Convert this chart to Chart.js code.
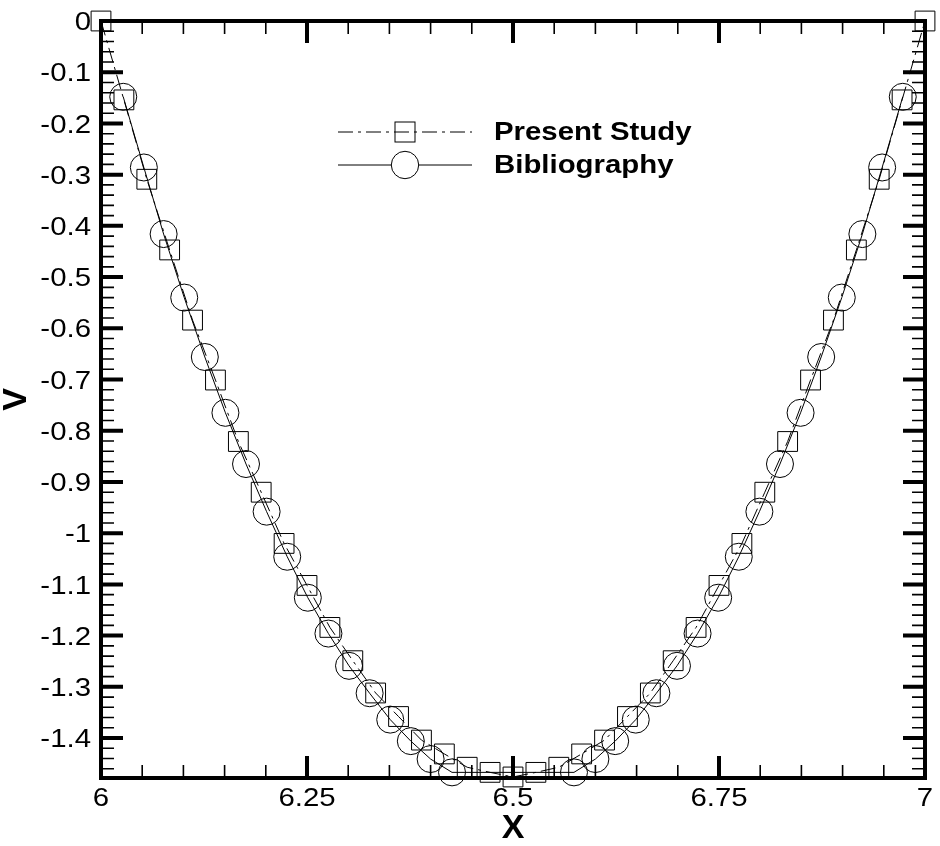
<!DOCTYPE html>
<html>
<head>
<meta charset="utf-8">
<title>V along X</title>
<script src="https://cdn.jsdelivr.net/npm/chart.js@4.4.1/dist/chart.umd.min.js"></script>
<style>
    html, body { margin: 0; padding: 0; background: #fff; }
    #wrap { width: 940px; height: 846px; position: relative; }
</style>
</head>
<body>
<div id="wrap"><canvas id="chart"></canvas></div>
<script>
// --- 1. data ---
const studyX = [6.0000, 6.0278, 6.0556, 6.0833, 6.1111, 6.1389, 6.1667, 6.1944, 6.2222, 6.2500,
    6.2778, 6.3056, 6.3333, 6.3611, 6.3889, 6.4167, 6.4444, 6.4722, 6.5000, 6.5278,
    6.5556, 6.5833, 6.6111, 6.6389, 6.6667, 6.6944, 6.7222, 6.7500, 6.7778, 6.8056,
    6.8333, 6.8611, 6.8889, 6.9167, 6.9444, 6.9722, 7.0000];
const studyV = [0, -0.154, -0.309, -0.447, -0.584, -0.701, -0.821, -0.920, -1.020, -1.102,
    -1.184, -1.249, -1.312, -1.358, -1.404, -1.431, -1.457, -1.467, -1.476, -1.467,
    -1.457, -1.431, -1.404, -1.358, -1.312, -1.249, -1.184, -1.102, -1.020, -0.920,
    -0.821, -0.701, -0.584, -0.447, -0.309, -0.154, 0];

const bibX = [6.027, 6.052, 6.076, 6.101, 6.126, 6.151, 6.176, 6.201, 6.226, 6.251,
    6.276, 6.301, 6.326, 6.351, 6.376, 6.400, 6.426,
    6.574, 6.600, 6.624, 6.649, 6.674, 6.699, 6.724, 6.749, 6.774,
    6.799, 6.824, 6.849, 6.874, 6.899, 6.924, 6.948, 6.973];
const bibV = [-0.148, -0.286, -0.416, -0.540, -0.656, -0.765, -0.865, -0.958, -1.046, -1.126,
    -1.196, -1.259, -1.3125, -1.364, -1.406, -1.441, -1.467,
    -1.467, -1.441, -1.406, -1.364, -1.3125, -1.259, -1.196, -1.126, -1.046,
    -0.958, -0.865, -0.765, -0.656, -0.540, -0.416, -0.286, -0.148];

const seriesNames = ['Present Study', 'Bibliography'];

// axis ranges and tick labels
const xMin = 6, xMax = 7;
const yMin = -1.478, yMax = 0;
const xTicks = [6, 6.25, 6.5, 6.75, 7];
const xTickLabels = ['6', '6.25', '6.5', '6.75', '7'];
const yTicks = [0, -0.1, -0.2, -0.3, -0.4, -0.5, -0.6, -0.7, -0.8, -0.9, -1, -1.1, -1.2, -1.3, -1.4];
const yTickLabels = ['0', '-0.1', '-0.2', '-0.3', '-0.4', '-0.5', '-0.6', '-0.7', '-0.8', '-0.9',
    '-1', '-1.1', '-1.2', '-1.3', '-1.4'];
const xMinorStep = 0.05;
const yMinorStep = 0.02;

// --- 2. styles ---
const FONT = "'Liberation Sans', Arial, sans-serif";
const studyDash = [15, 5, 3, 5];
const TEXT_STRETCH = 1.13;   // the original lettering is a bit wider than Arial

const toPoints = (xs, ys) => xs.map((x, i) => ({ x: x, y: ys[i] }));

/** text drawn with a small horizontal stretch */
function wideText(ctx, text, x, y, align, baseline) {
    ctx.save();
    ctx.translate(x, y);
    ctx.scale(TEXT_STRETCH, 1);
    ctx.textAlign = align;
    ctx.textBaseline = baseline;
    ctx.fillText(text, 0, 0);
    ctx.restore();
}

/** box with inward ticks on all four sides, tick labels, legend */
const framePlugin = {
    id: 'frame',
    afterDatasetsDraw(chart) {
        const { ctx, chartArea: a, scales } = chart;
        const sx = scales.x, sy = scales.y;
        ctx.save();
        ctx.strokeStyle = '#000';
        ctx.setLineDash([]);

        const tick = (len, width, xs, ys) => {
            ctx.lineWidth = width;
            ctx.beginPath();
            xs.forEach(v => {
                const px = sx.getPixelForValue(v);
                ctx.moveTo(px, a.bottom); ctx.lineTo(px, a.bottom - len);
                ctx.moveTo(px, a.top); ctx.lineTo(px, a.top + len);
            });
            ys.forEach(v => {
                const py = sy.getPixelForValue(v);
                ctx.moveTo(a.left, py); ctx.lineTo(a.left + len, py);
                ctx.moveTo(a.right, py); ctx.lineTo(a.right - len, py);
            });
            ctx.stroke();
        };

        // minor ticks
        const xMinor = [], yMinor = [];
        for (let k = 0; xMin + k * xMinorStep <= xMax + 1e-9; k++) xMinor.push(xMin + k * xMinorStep);
        for (let k = 0; yMax - k * yMinorStep >= yMin - 1e-9; k++) yMinor.push(yMax - k * yMinorStep);
        tick(13, 1.6, xMinor, yMinor);
        // major ticks
        tick(22, 4, xTicks, yTicks);

        // frame
        ctx.lineWidth = 4;
        ctx.strokeRect(a.left, a.top, a.right - a.left, a.bottom - a.top);

        // tick labels
        ctx.fillStyle = '#000';
        ctx.font = '26px ' + FONT;
        xTicks.forEach((v, i) => {
            wideText(ctx, xTickLabels[i], sx.getPixelForValue(v), a.bottom + 28, 'center', 'alphabetic');
        });
        yTicks.forEach((v, i) => {
            wideText(ctx, yTickLabels[i], a.left - 10, sy.getPixelForValue(v) + 2, 'right', 'middle');
        });
        ctx.restore();
    },
    afterDraw(chart) {
        // legend, drawn by hand so the marker sits on the line
        const ctx = chart.ctx;
        const x0 = 338, x1 = 472, mx = 405, tx = 494;
        const rows = [132, 165];
        ctx.save();
        ctx.strokeStyle = '#000';
        ctx.lineWidth = 1;

        ctx.setLineDash(studyDash);
        ctx.beginPath();
        ctx.moveTo(x0, rows[0]); ctx.lineTo(x1, rows[0]);
        ctx.stroke();
        ctx.setLineDash([]);
        ctx.strokeRect(mx - 10, rows[0] - 10, 20, 20);

        ctx.beginPath();
        ctx.moveTo(x0, rows[1]); ctx.lineTo(mx - 13.7, rows[1]);
        ctx.moveTo(mx + 13.7, rows[1]); ctx.lineTo(x1, rows[1]);
        ctx.stroke();
        ctx.beginPath();
        ctx.arc(mx, rows[1], 13.7, 0, Math.PI * 2);
        ctx.stroke();

        ctx.fillStyle = '#000';
        ctx.font = 'bold 26px ' + FONT;
        wideText(ctx, seriesNames[0], tx, rows[0] + 1, 'left', 'middle');
        wideText(ctx, seriesNames[1], tx, rows[1] + 1, 'left', 'middle');
        ctx.restore();
    }
};

// --- 3. chart ---
const ctx = document.getElementById('chart').getContext('2d');
new Chart(ctx, {
    type: 'scatter',
    data: {
        datasets: [{
            label: seriesNames[0],
            data: toPoints(studyX, studyV),
            showLine: true,
            borderColor: '#000',
            borderWidth: 1,
            borderDash: studyDash,
            tension: 0,
            pointStyle: 'rect',
            pointRadius: 14,
            pointBorderWidth: 1,
            pointBorderColor: '#000',
            pointBackgroundColor: 'rgba(0,0,0,0)',
            clip: false
        }, {
            label: seriesNames[1],
            data: toPoints(bibX, bibV),
            showLine: true,
            borderColor: '#000',
            borderWidth: 1,
            tension: 0,
            pointStyle: 'circle',
            pointRadius: 13.5,
            pointBorderWidth: 1,
            pointBorderColor: '#000',
            pointBackgroundColor: 'rgba(0,0,0,0)',
            clip: false
        }]
    },
    options: {
        responsive: true,
        maintainAspectRatio: false,
        animation: false,
        events: [],
        layout: { padding: { top: 21, right: 8, left: 0, bottom: 0 } },
        plugins: {
            legend: { display: false },
            tooltip: { enabled: false }
        },
        scales: {
            x: {
                type: 'linear',
                min: xMin,
                max: xMax,
                grid: { display: false },
                border: { display: false },
                afterBuildTicks: s => { s.ticks = xTicks.map(v => ({ value: v })); },
                afterFit: s => { s.height = 68; },
                ticks: { display: false },
                title: {
                    display: true,
                    text: 'X',
                    color: '#000',
                    padding: 0,
                    font: { family: FONT, size: 34, weight: 'bold', lineHeight: 1 }
                }
            },
            y: {
                type: 'linear',
                min: yMin,
                max: yMax,
                grid: { display: false },
                border: { display: false },
                afterBuildTicks: s => { s.ticks = yTicks.map(v => ({ value: v })); },
                afterFit: s => { s.width = 101; },
                ticks: { display: false },
                title: {
                    display: true,
                    text: 'V',
                    color: '#000',
                    padding: 0,
                    font: { family: FONT, size: 34, weight: 'bold', lineHeight: 1 }
                }
            }
        }
    },
    plugins: [framePlugin]
});
</script>
</body>
</html>
